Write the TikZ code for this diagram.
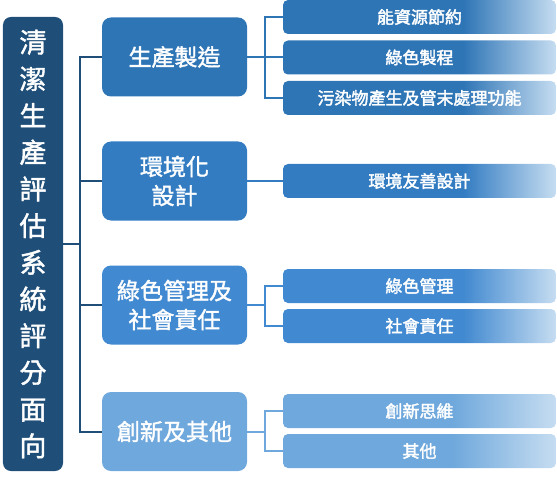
\documentclass[tikz,border=0pt]{standalone}
\usepackage{fontspec}
\setmainfont{Noto Sans CJK TC}
\newfontfamily\medfont[FakeBold=1.6]{Noto Sans CJK TC}
\newfontfamily\semifont[FakeBold=2.2]{Noto Sans CJK TC}
\definecolor{rootc}{HTML}{1F4E79}
\definecolor{cA}{HTML}{2E75B6}
\definecolor{cB}{HTML}{337CC2}
\definecolor{cC}{HTML}{4189D0}
\definecolor{cD}{HTML}{6FA8DC}
\definecolor{lite}{HTML}{C6DDF1}
\pgfdeclarehorizontalshading{gA}{100bp}{color(0bp)=(cA); color(58bp)=(cA); color(75bp)=(lite); color(100bp)=(lite)}
\pgfdeclarehorizontalshading{gB}{100bp}{color(0bp)=(cB); color(58bp)=(cB); color(75bp)=(lite); color(100bp)=(lite)}
\pgfdeclarehorizontalshading{gC}{100bp}{color(0bp)=(cC); color(58bp)=(cC); color(75bp)=(lite); color(100bp)=(lite)}
\pgfdeclarehorizontalshading{gD}{100bp}{color(0bp)=(cD); color(56bp)=(cD); color(75bp)=(lite); color(100bp)=(lite)}
\tikzset{
  rootbox/.style={fill=rootc, rounded corners=8bp, text=white, minimum width=60bp, minimum height=454bp, inner sep=0pt, align=center, font=\medfont\fontsize{27bp}{36.7bp}\selectfont},
  midbox/.style={rounded corners=9bp, text=white, minimum width=145bp, minimum height=79bp, inner sep=0pt, align=center, font=\medfont\fontsize{23bp}{29bp}\selectfont},
  leafbox/.style={rounded corners=5bp, text=white, minimum width=273bp, minimum height=34bp, inner sep=0pt, font=\semifont\fontsize{17bp}{20bp}\selectfont},
  trunk/.style={draw=rootc, line width=2bp},
  link/.style={line width=2bp},
}
\begin{document}
\begin{tikzpicture}[x=1bp, y=-1bp]
\useasboundingbox (0,0) rectangle (557,482);
\node[rootbox] (root) at (33,244) {清\\潔\\生\\產\\評\\估\\系\\統\\評\\分\\面\\向};
\node[midbox, fill=cA] (b1) at (174.5,57) {生產製造};
\node[midbox, fill=cB] (b2) at (174.5,181) {環境化\\設計};
\node[midbox, fill=cC] (b3) at (174.5,305) {綠色管理及\\社會責任};
\node[midbox, fill=cD] (b4) at (174.5,431.5) {創新及其他};
\node[leafbox, shading=gA] (c11) at (419.5,17) {能資源節約};
\node[leafbox, shading=gA] (c12) at (419.5,57.5) {綠色製程};
\node[leafbox, shading=gA] (c13) at (419.5,98) {污染物產生及管末處理功能};
\node[leafbox, shading=gB] (c21) at (419.5,181) {環境友善設計};
\node[leafbox, shading=gC] (c31) at (419.5,286) {綠色管理};
\node[leafbox, shading=gC] (c32) at (419.5,326) {社會責任};
\node[leafbox, shading=gD] (c41) at (419.5,411) {創新思維};
\node[leafbox, shading=gD] (c42) at (419.5,451) {其他};
\coordinate (tx) at (80,0);
\coordinate (bx) at (265,0);
\draw[trunk] (b1.west) -- (b1.west -| tx) -- (b4.west -| tx) -- (b4.west);
\draw[trunk] (b2.west) -- (b2.west -| tx);
\draw[trunk] (b3.west) -- (b3.west -| tx);
\draw[trunk] (root.east |- 0,244) -- (tx |- 0,244);
\draw[link, draw=cA] (b1.east) -- (b1.east -| bx);
\draw[link, draw=cA] (c11.west) -- (c11.west -| bx) -- (c13.west -| bx) -- (c13.west);
\draw[link, draw=cA] (c12.west) -- (c12.west -| bx);
\draw[link, draw=cB] (b2.east) -- (c21.west);
\draw[link, draw=cC] (b3.east) -- (b3.east -| bx);
\draw[link, draw=cC] (c31.west) -- (c31.west -| bx) -- (c32.west -| bx) -- (c32.west);
\draw[link, draw=cD] (b4.east) -- (b4.east -| bx);
\draw[link, draw=cD] (c41.west) -- (c41.west -| bx) -- (c42.west -| bx) -- (c42.west);
\end{tikzpicture}
\end{document}
